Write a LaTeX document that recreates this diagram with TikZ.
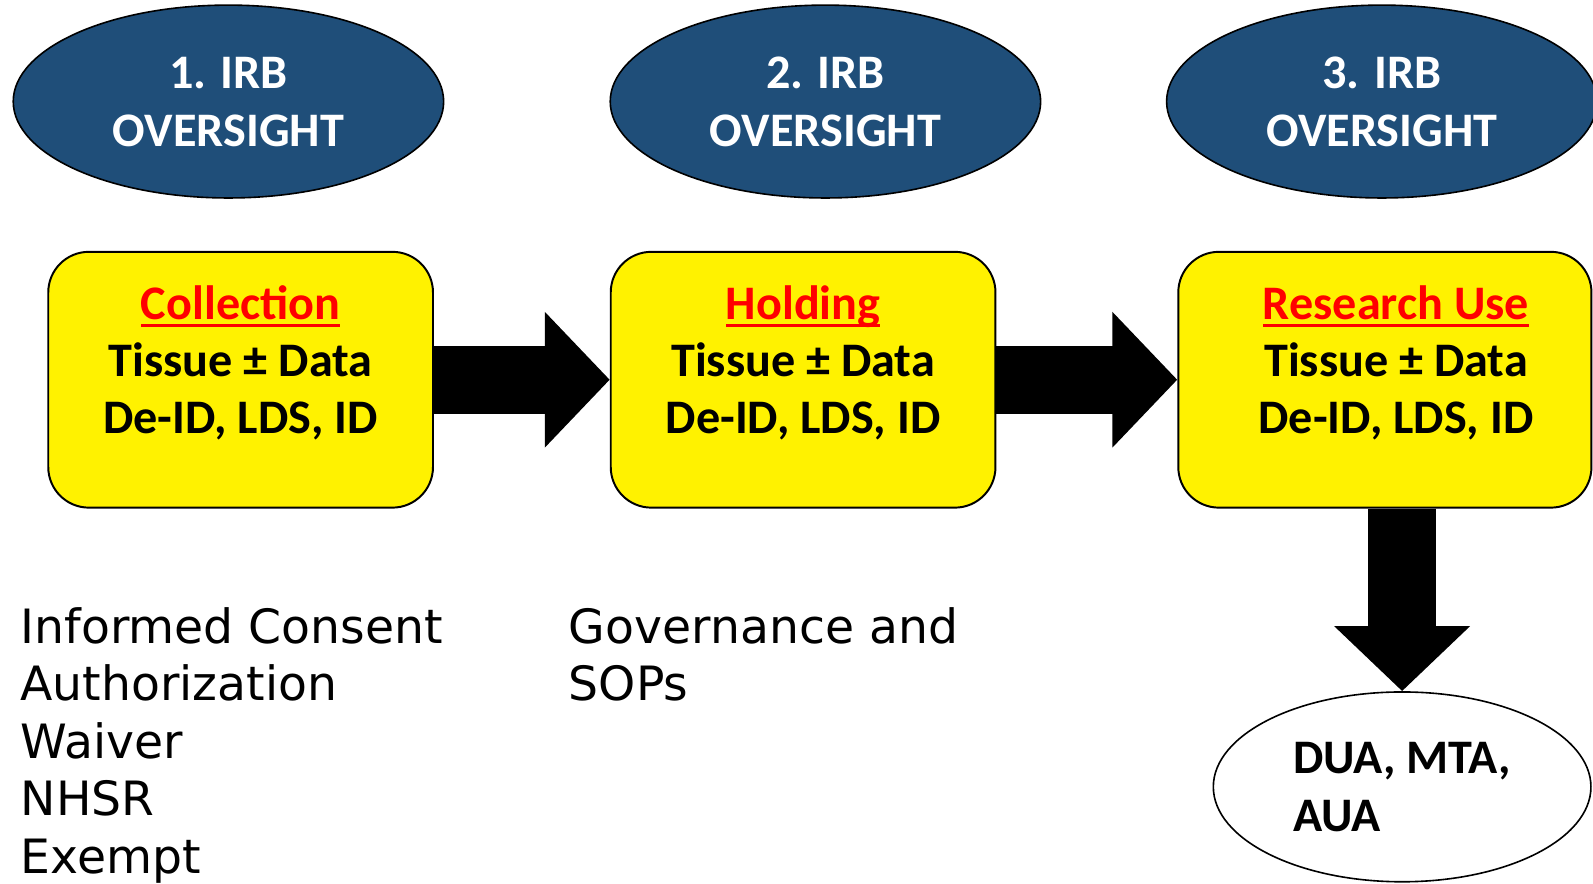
\documentclass[tikz,border=0pt]{standalone}
\usepackage{fontspec}
\setmainfont{Carlito}
\newfontfamily\plainfont{DejaVu Sans}
\usetikzlibrary{shapes.geometric,arrows.meta,positioning}
\definecolor{irbblue}{RGB}{31,78,121}
\newcommand{\thickul}[1]{\setbox0\hbox{#1}\rlap{\rule[-4.5pt]{\wd0}{1.6pt}}\box0}

\begin{document}
\begin{tikzpicture}[x=0.02cm, y=-0.02cm]
        \tikzstyle{irb}=[ellipse, draw=black, line width=0.9pt, fill=irbblue, text=white, align=center, minimum width=8.48cm, minimum height=3.8cm, font=\fontsize{27}{32.5}\selectfont\bfseries]
        \tikzstyle{stage}=[draw=black, line width=1.1pt, fill=yellow, rounded corners=0.8cm, minimum width=7.58cm, minimum height=5.04cm]
        \tikzstyle{stagetext}=[align=center, inner sep=0pt, font=\fontsize{27}{32}\selectfont\bfseries]
        \tikzstyle{note}=[anchor=north west, align=left, inner sep=0pt, font=\plainfont\fontsize{26.5}{32.2}\selectfont]
        \tikzstyle{fat}=[line width=1.34cm, -{Triangle[length=1.28cm, width=2.6cm]}]
        \useasboundingbox (0,0) rectangle (1569,870);
        % oversight ellipses
        \node[irb] (irbone) at (225,100) {1. IRB\\OVERSIGHT};
        \node[irb] (irbtwo) at (813,100) {2. IRB\\OVERSIGHT};
        \node[irb] (irbthree) at (1361,100) {3. IRB\\OVERSIGHT};
        % stages
        \node[stage] (coll) at (237,374) {};
        \node[stage] (hold) at (791,374) {};
        \node[stage, minimum width=8.14cm] (use) at (1364,374) {};
        \node[stagetext] (colltext) at ([yshift=0.34cm]coll.center) {\textcolor{red}{\thickul{Collection}}\\Tissue ± Data\\De-ID, LDS, ID};
        \node[stagetext] (holdtext) at ([yshift=0.34cm]hold.center) {\textcolor{red}{\thickul{Holding}}\\Tissue ± Data\\De-ID, LDS, ID};
        \node[stagetext] (usetext) at ([xshift=0.22cm, yshift=0.34cm]use.center) {\textcolor{red}{\thickul{Research Use}}\\Tissue ± Data\\De-ID, LDS, ID};
        \node[ellipse, draw=black, line width=0.9pt, minimum width=7.44cm, minimum height=3.74cm, align=left, font=\fontsize{27}{32.5}\selectfont\bfseries] (dua) at (1381,775) {DUA, MTA,\\AUA};
        % block arrows
        \draw[fat] (coll.east) -- (hold.west);
        \draw[fat] (hold.east) -- (use.west);
        \draw[fat] (use.south -| dua.north) -- (dua.north);
        % notes
        \node[note] (consent) at (20,598) {Informed Consent\\Authorization\\Waiver\\NHSR\\Exempt};
        \node[note] (govern) at (560,598) {Governance and\\SOPs};
\end{tikzpicture}
\end{document}
